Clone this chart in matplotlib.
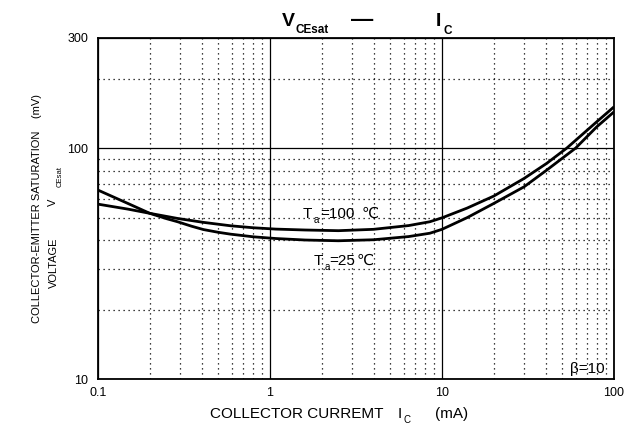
import matplotlib
matplotlib.use('Agg')
import matplotlib.pyplot as plt
from matplotlib.ticker import LogLocator, NullFormatter

# ---- data ----
ic_25 = [0.1, 0.15, 0.2, 0.25, 0.29, 0.35, 0.41, 0.5, 0.59, 0.8, 1.08, 1.6, 2.5, 4.0,
         6.4, 8.5, 10, 14, 20, 30, 40.6, 59.8, 79.3, 100]
vce_25 = [65.8, 57.5, 52.2, 49.5, 48.0, 45.9, 44.4, 43.2, 42.4, 41.3, 40.6, 40.0, 39.7, 40.1,
          41.4, 42.8, 44.5, 50.0, 57.6, 68.0, 80.3, 100, 123.6, 143.6]
ic_100 = [0.1, 0.15, 0.2, 0.29, 0.41, 0.59, 0.8, 1.08, 1.6, 2.5, 4.0, 6.4, 8.5, 10, 14,
          20, 30, 40.6, 53.1, 79.3, 100]
vce_100 = [57.2, 54.4, 52.2, 49.6, 47.7, 46.1, 45.2, 44.6, 44.2, 43.9, 44.5, 46.2, 48.0, 49.9, 55.0,
           62.0, 73.9, 85.9, 100, 130, 151]

x_ticks = [0.1, 1, 10, 100]
x_ticklabels = ['0.1', '1', '10', '100']
y_ticks = [10, 100, 300]
y_ticklabels = ['10', '100', '300']

FONT = ['Liberation Sans', 'DejaVu Sans']
NARROW = ['Liberation Sans Narrow', 'Liberation Sans', 'DejaVu Sans']

W, H = 637, 436
fig = plt.figure(figsize=(W / 100, H / 100), dpi=100)
ax = fig.add_axes([98 / W, 1 - 379 / H, (614 - 98) / W, (379 - 38) / H])
ax.set_xscale('log')
ax.set_yscale('log')
ax.set_xlim(0.1, 100)
ax.set_ylim(10, 300)

ax.xaxis.set_minor_locator(LogLocator(base=10, subs=range(2, 10)))
ax.yaxis.set_minor_locator(LogLocator(base=10, subs=range(2, 10)))
ax.xaxis.set_minor_formatter(NullFormatter())
ax.yaxis.set_minor_formatter(NullFormatter())
ax.set_xticks(x_ticks)
ax.set_xticklabels(x_ticklabels, fontfamily=FONT, fontsize=9)
ax.set_yticks(y_ticks)
ax.set_yticklabels(y_ticklabels, fontfamily=FONT, fontsize=9)
ax.tick_params(which='both', length=0)
ax.tick_params(axis='y', pad=7)
ax.tick_params(axis='x', pad=6)

ax.grid(which='minor', color='black', linestyle=(0, (1, 3)), linewidth=0.9)
ax.grid(which='major', color='black', linestyle='-', linewidth=0.9)
ax.set_axisbelow(True)
for s in ax.spines.values():
    s.set_linewidth(1.3)

ax.plot(ic_25, vce_25, color='black', linewidth=2.0, solid_capstyle='butt', solid_joinstyle='round')
ax.plot(ic_100, vce_100, color='black', linewidth=2.0, solid_capstyle='butt', solid_joinstyle='round')


def txt(x, y, s, **kw):
    kw.setdefault('ha', 'left')
    kw.setdefault('va', 'baseline')
    kw.setdefault('fontfamily', FONT)
    fig.text(x / W, 1 - y / H, s, **kw)


# title
txt(282, 26, 'V', fontsize=14, fontweight='bold')
txt(296, 33, 'CEsat', fontsize=8.5, fontweight='bold')
txt(362, 26, '\u2014', fontsize=16, fontweight='bold', ha='center')
txt(436, 26, 'I', fontsize=14, fontweight='bold')
txt(443, 34, 'C', fontsize=8.5, fontweight='bold')

# y label (rotated)
txt(37, 323, 'COLLECTOR-EMITTER SATURATION    (mV)', rotation=90, ha='center', va='bottom',
    fontsize=8, fontfamily=NARROW)
txt(54, 288, 'VOLTAGE', rotation=90, ha='center', va='bottom', fontsize=8, fontfamily=NARROW)
txt(53, 206, 'V', rotation=90, ha='center', va='bottom', fontsize=8, fontfamily=NARROW)
txt(60, 187, 'CEsat', rotation=90, ha='center', va='bottom', fontsize=5.5, fontfamily=NARROW)

# x label
txt(210, 418, 'COLLECTOR CURREMT', fontsize=11)
txt(398, 418, 'I', fontsize=11)
txt(403, 423, 'C', fontsize=7)
txt(435, 418, '(mA)', fontsize=11)

# curve labels
txt(303, 218, 'T', fontsize=11)
txt(314, 223, 'a', fontsize=7)
txt(320, 218, '=100', fontsize=11)
txt(362, 218, '\u2103', fontsize=11)
txt(314, 265, 'T', fontsize=11)
txt(325, 270, 'a', fontsize=7)
txt(329, 265, '=25', fontsize=11)
txt(357, 265, '\u2103', fontsize=11)

txt(570, 373, '\u03b2=10', fontsize=11)

fig.savefig('out.png', dpi=100, facecolor='white')
